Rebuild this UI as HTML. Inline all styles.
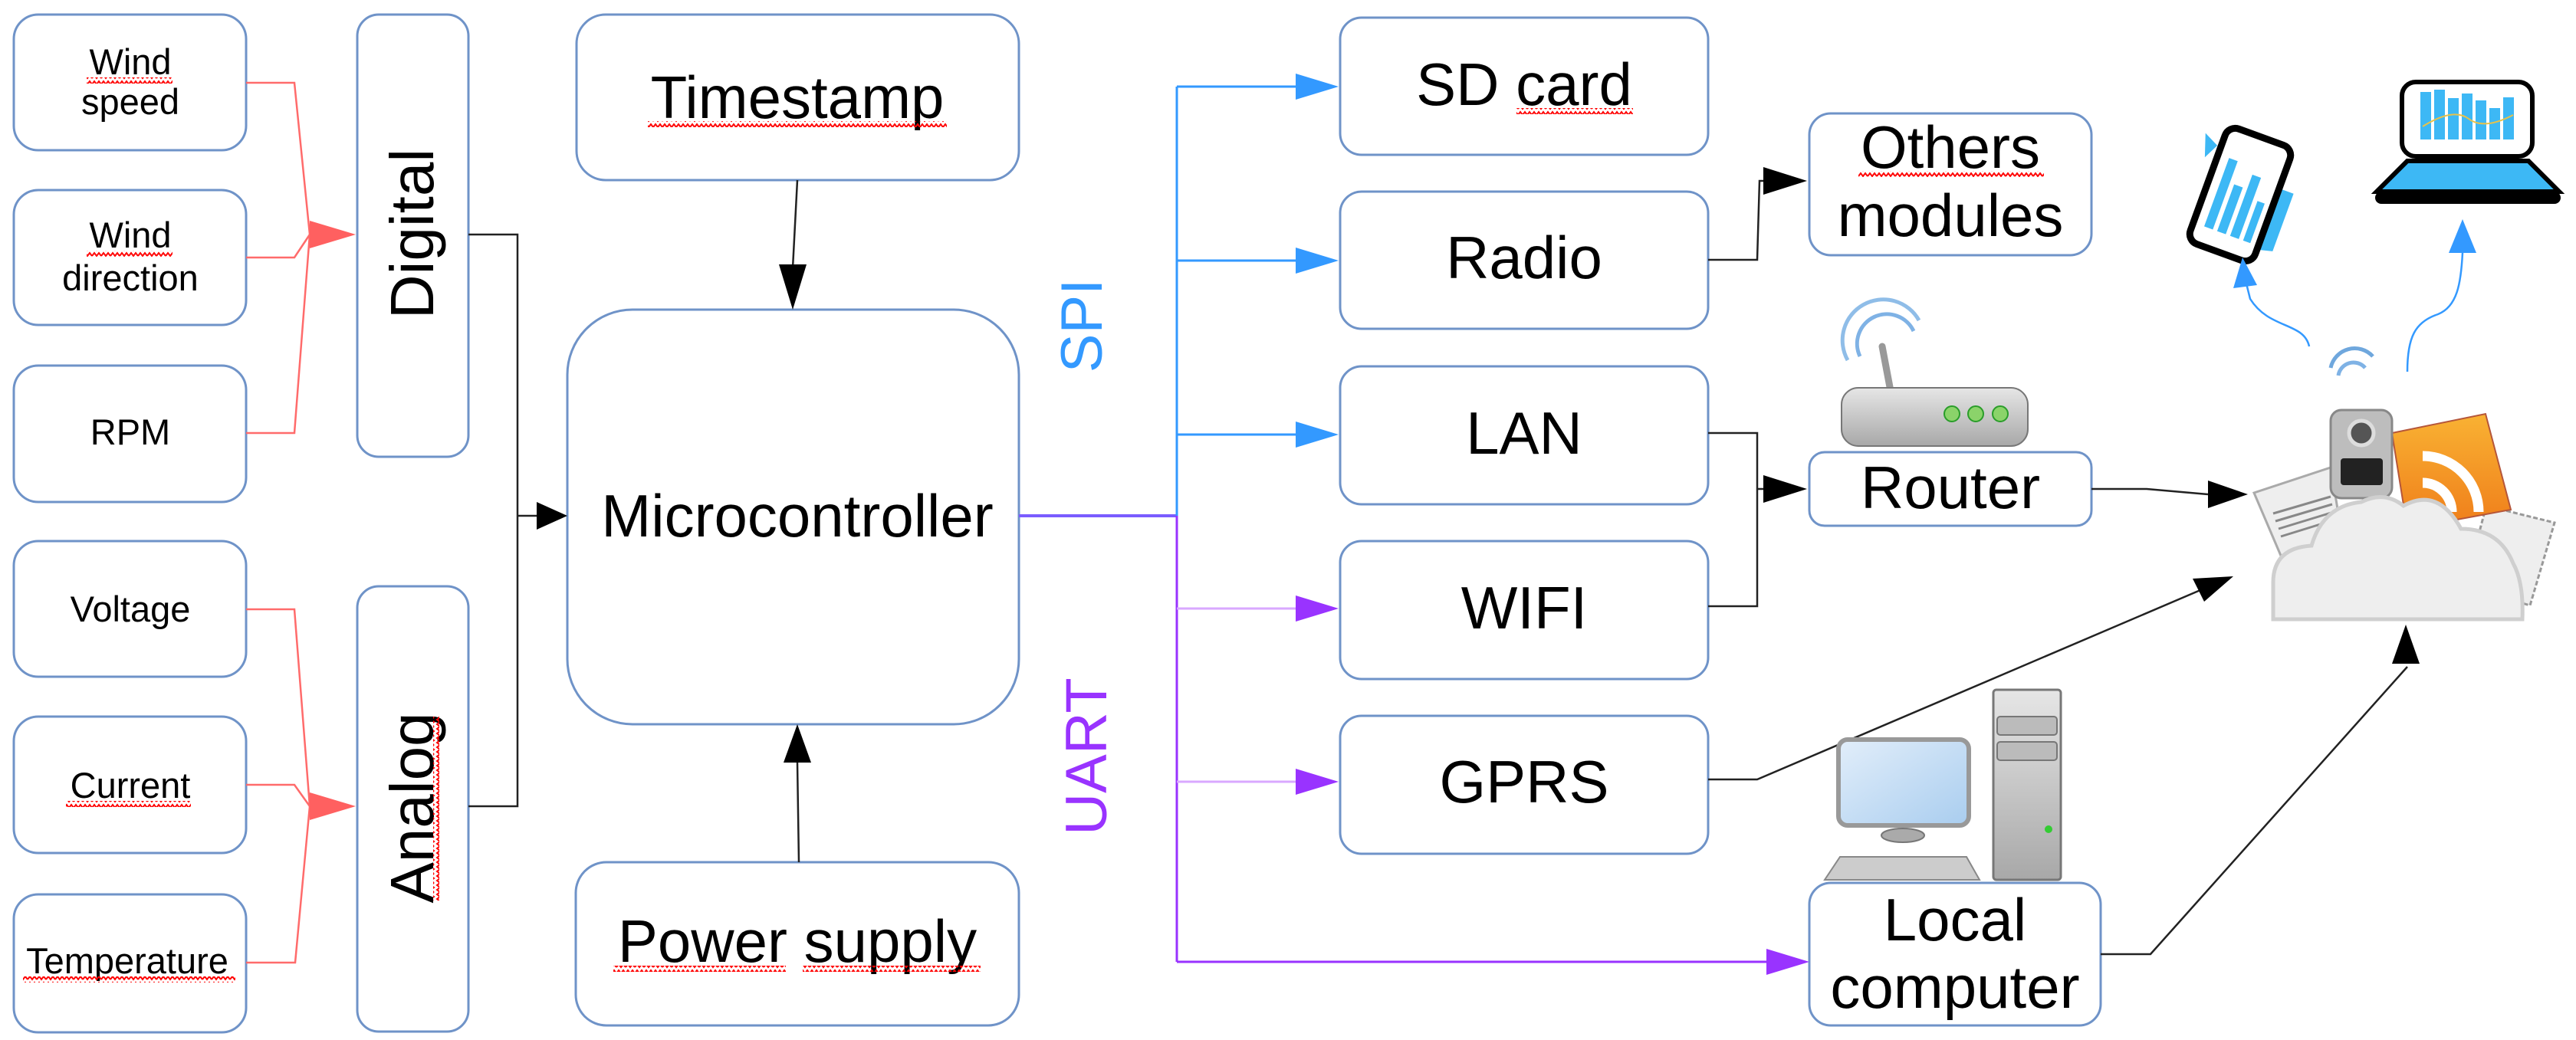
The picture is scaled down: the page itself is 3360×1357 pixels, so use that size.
<!DOCTYPE html>
<html><head><meta charset="utf-8"><style>
html,body{margin:0;padding:0;background:#fff;}
svg{display:block;}
text{font-family:"Liberation Sans",sans-serif;fill:#000;}
</style></head><body>
<svg width="3360" height="1357" viewBox="0 0 3360 1357" xmlns="http://www.w3.org/2000/svg">
<defs>
<pattern id="wv" width="12" height="8" patternUnits="userSpaceOnUse">
<path d="M0,6 L3,2 L6,6 L9,2 L12,6" fill="none" stroke="#f00" stroke-width="2"/>
</pattern>
<pattern id="wvv" width="8" height="12" patternUnits="userSpaceOnUse">
<path d="M6,0 L2,3 L6,6 L2,9 L6,12" fill="none" stroke="#f00" stroke-width="2"/>
</pattern>
<linearGradient id="gr" x1="0" y1="0" x2="0" y2="1"><stop offset="0" stop-color="#e6e6e6"/><stop offset="1" stop-color="#a8a8a8"/></linearGradient>
<linearGradient id="scr" x1="0" y1="0" x2="1" y2="1"><stop offset="0" stop-color="#e2eefa"/><stop offset="1" stop-color="#a9cdef"/></linearGradient>
<linearGradient id="org" x1="0" y1="0" x2="0" y2="1"><stop offset="0" stop-color="#f9b233"/><stop offset="1" stop-color="#ef7d1a"/></linearGradient>
</defs>
<g fill="#fff" stroke="#6f93c8" stroke-width="3">
<rect x="18" y="19" width="303" height="177" rx="32"/>
<rect x="18" y="248" width="303" height="176" rx="32"/>
<rect x="18" y="477" width="303" height="178" rx="32"/>
<rect x="18" y="706" width="303" height="177" rx="32"/>
<rect x="18" y="935" width="303" height="178" rx="32"/>
<rect x="18" y="1167" width="303" height="180" rx="32"/>
<rect x="466" y="19" width="145" height="577" rx="28"/>
<rect x="466" y="765" width="145" height="581" rx="28"/>
<rect x="752" y="19" width="577" height="216" rx="38"/>
<rect x="740" y="404" width="589" height="541" rx="85"/>
<rect x="751" y="1125" width="578" height="213" rx="40"/>
<rect x="1748" y="23" width="480" height="179" rx="28"/>
<rect x="1748" y="250" width="480" height="179" rx="28"/>
<rect x="1748" y="478" width="480" height="180" rx="28"/>
<rect x="1748" y="706" width="480" height="180" rx="28"/>
<rect x="1748" y="934" width="480" height="180" rx="28"/>
<rect x="2360" y="148" width="368" height="185" rx="28"/>
<rect x="2360" y="590" width="368" height="96" rx="20"/>
<rect x="2360" y="1152" width="380" height="186" rx="28"/>
</g>
<g fill="none" stroke="#ff6b6b" stroke-width="2.5">
<polyline points="321,108 384,108 404,306"/>
<polyline points="321,336 384,336 404,306"/>
<polyline points="321,565 384,565 404,306"/>
<polyline points="321,795 384,795 404,1052"/>
<polyline points="321,1024 384,1024 404,1052"/>
<polyline points="321,1256 385,1256 404,1052"/>
</g>
<polygon points="404,288 464,306 404,324" fill="#ff6060"/>
<polygon points="404,1034 464,1052 404,1070" fill="#ff6060"/>
<g fill="none" stroke="#222" stroke-width="2.5">
<polyline points="611,306 675,306 675,1052 611,1052"/>
<line x1="675" y1="673" x2="700" y2="673"/>
<line x1="1040" y1="235" x2="1034" y2="350"/>
<line x1="1042" y1="1125" x2="1040" y2="995"/>
<polyline points="2228,339 2292,339 2295,236 2310,236"/>
<polyline points="2228,565 2292,565 2292,791 2228,791"/>
<line x1="2292" y1="638" x2="2310" y2="638"/>
<polyline points="2728,638 2800,638 2880,645"/>
<polyline points="2228,1017 2292,1017 2870,770"/>
<polyline points="2740,1245 2805,1245 3140,870"/>
</g>
<g fill="#000">
<polygon points="700,655 740,673 700,691"/>
<polygon points="1016,345 1052,345 1034,404"/>
<polygon points="1022,995 1058,995 1040,945"/>
<polygon points="2300,218 2357,236 2300,254"/>
<polygon points="2300,620 2357,638 2300,656"/>
<polygon points="2880,627 2932,645 2880,663"/>
<polygon points="2860,755 2913,752 2875,785"/>
<polygon points="3120,866 3156,866 3138,815"/>
</g>
<line x1="1329" y1="673" x2="1535" y2="673" stroke="#7a5cff" stroke-width="4"/>
<g stroke="#3399ff" stroke-width="3" fill="none">
<line x1="1535" y1="113" x2="1535" y2="673"/>
<line x1="1535" y1="113" x2="1695" y2="113"/>
<line x1="1535" y1="340" x2="1695" y2="340"/>
<line x1="1535" y1="567" x2="1695" y2="567"/>
</g>
<g stroke="#9933ff" stroke-width="3" fill="none">
<line x1="1535" y1="673" x2="1535" y2="1255"/>
<line x1="1535" y1="1255" x2="2310" y2="1255"/>
</g>
<g stroke="#d9a8ff" stroke-width="3">
<line x1="1535" y1="794" x2="1695" y2="794"/>
<line x1="1535" y1="1020" x2="1695" y2="1020"/>
</g>
<g fill="#3399ff">
<polygon points="1690,96 1746,113 1690,130"/>
<polygon points="1690,323 1746,340 1690,357"/>
<polygon points="1690,550 1746,567 1690,584"/>
</g>
<g fill="#9933ff">
<polygon points="1690,777 1746,794 1690,811"/>
<polygon points="1690,1003 1746,1020 1690,1037"/>
<polygon points="2304,1238 2360,1255 2304,1272"/>
</g>
<g font-size="47" text-anchor="middle">
<text x="170" y="97">Wind</text><text x="170" y="149">speed</text>
<text x="170" y="323">Wind</text><text x="170" y="379">direction</text>
<text x="170" y="580">RPM</text>
<text x="170" y="811">Voltage</text>
<text x="170" y="1041">Current</text>
<text x="166" y="1270">Temperature</text>
</g>
<g font-size="78" text-anchor="middle">
<text x="1040" y="154">Timestamp</text>
<text x="1040" y="700">Microcontroller</text>
<text x="1040" y="1255">Power supply</text>
<text x="1988" y="137">SD card</text>
<text x="1988" y="363">Radio</text>
<text x="1988" y="592">LAN</text>
<text x="1988" y="820">WIFI</text>
<text x="1988" y="1047">GPRS</text>
<text x="2544" y="219">Others</text><text x="2544" y="308">modules</text>
<text x="2544" y="663">Router</text>
<text x="2550" y="1227">Local</text><text x="2550" y="1315">computer</text>
</g>
<text font-size="80" text-anchor="middle" transform="translate(565,305) rotate(-90)">Digital</text>
<text font-size="80" text-anchor="middle" transform="translate(565,1054) rotate(-90)">Analog</text>
<text font-size="76" text-anchor="middle" style="fill:#3399ff" transform="translate(1437,425) rotate(-90)">SPI</text>
<text font-size="76" text-anchor="middle" style="fill:#9933ff" transform="translate(1443,987) rotate(-90)">UART</text>
<g fill="url(#wv)">
<rect x="113" y="101" width="112" height="8"/>
<rect x="113" y="327" width="112" height="8"/>
<rect x="86" y="1045" width="163" height="8"/>
<rect x="30" y="1274" width="277" height="8"/>
<rect x="845" y="158" width="390" height="8"/>
<rect x="800" y="1260" width="225" height="8"/>
<rect x="1047" y="1260" width="232" height="8"/>
<rect x="1978" y="141" width="152" height="8"/>
<rect x="2424" y="223" width="242" height="8"/>
</g>
<rect x="565" y="935" width="8" height="240" fill="url(#wvv)"/>
<g>
<path d="M2426,465 A34,34 0 0 1 2496,432" fill="none" stroke="#7fb2e5" stroke-width="5"/>
<path d="M2410,470 A52,52 0 0 1 2503,418" fill="none" stroke="#8fbde8" stroke-width="5"/>
<line x1="2455" y1="452" x2="2465" y2="505" stroke="#999" stroke-width="9" stroke-linecap="round"/>
<rect x="2402" y="506" width="243" height="76" rx="22" fill="url(#gr)" stroke="#777" stroke-width="2"/>
<circle cx="2546" cy="540" r="10" fill="#8bd36a" stroke="#2a9d2a" stroke-width="2"/>
<circle cx="2577" cy="540" r="10" fill="#8bd36a" stroke="#2a9d2a" stroke-width="2"/>
<circle cx="2609" cy="540" r="10" fill="#8bd36a" stroke="#2a9d2a" stroke-width="2"/>
</g>
<g>
<rect x="2398" y="965" width="170" height="112" rx="12" fill="url(#scr)" stroke="#999" stroke-width="6"/>
<ellipse cx="2482" cy="1090" rx="28" ry="9" fill="#aaa" stroke="#777" stroke-width="2"/>
<polygon points="2400,1118 2565,1118 2582,1148 2380,1148" fill="#ccc" stroke="#888" stroke-width="2"/>
<rect x="2600" y="900" width="88" height="248" rx="4" fill="url(#gr)" stroke="#777" stroke-width="3"/>
<rect x="2605" y="935" width="78" height="24" rx="4" fill="#bbb" stroke="#777" stroke-width="2"/>
<rect x="2605" y="968" width="78" height="24" rx="4" fill="#bbb" stroke="#777" stroke-width="2"/>
<circle cx="2672" cy="1082" r="5" fill="#3c3"/>
</g>
<g transform="translate(2922,254) rotate(20)">
<path d="M-70,-60 l20,10 l-10,20 z M45,-25 l20,0 l0,80 l-20,5 z" fill="#3db8f5"/>
<rect x="-45" y="-80" width="90" height="160" rx="14" fill="#fff" stroke="#000" stroke-width="9"/>
<g fill="#3db8f5"><rect x="-30" y="-40" width="12" height="95"/><rect x="-12" y="-10" width="12" height="65"/><rect x="6" y="-30" width="12" height="85"/><rect x="24" y="0" width="10" height="55"/></g>
</g>
<g>
<rect x="3133" y="107" width="170" height="97" rx="18" fill="#fff" stroke="#000" stroke-width="6"/>
<g fill="#3db8f5"><rect x="3157" y="120" width="14" height="62"/><rect x="3175" y="117" width="14" height="65"/><rect x="3193" y="128" width="14" height="54"/><rect x="3211" y="122" width="14" height="60"/><rect x="3229" y="131" width="14" height="51"/><rect x="3247" y="141" width="14" height="41"/><rect x="3265" y="127" width="14" height="55"/></g>
<path d="M3160,165 Q3200,140 3220,155 T3278,150" fill="none" stroke="#e8c24a" stroke-width="2"/>
<path d="M3140,210 L3298,210 L3338,250 L3100,250 Z" fill="#3db8f5" stroke="#000" stroke-width="6"/>
<rect x="3098" y="250" width="242" height="16" rx="8" fill="#000"/>
</g>
<path d="M3012,452 C3005,420 2960,430 2935,390 L2930,370" fill="none" stroke="#3399ff" stroke-width="2.5"/>
<polygon points="2913,376 2925,336 2944,372" fill="#3399ff"/>
<path d="M3140,485 C3140,440 3150,420 3180,410 C3205,400 3210,370 3212,330" fill="none" stroke="#3399ff" stroke-width="2.5"/>
<polygon points="3194,330 3212,286 3230,330" fill="#3399ff"/>
<g>
<path d="M3040,480 A32,32 0 0 1 3095,465" fill="none" stroke="#6fa7dd" stroke-width="5"/>
<path d="M3050,490 A20,20 0 0 1 3085,480" fill="none" stroke="#7fb2e5" stroke-width="5"/>
<polygon points="3243,660 3332,682 3300,790 3215,765" fill="#eee" stroke="#999" stroke-width="3" stroke-dasharray="6,3"/>
<polygon points="3120,565 3242,540 3275,665 3140,690" fill="url(#org)" stroke="#b5563a" stroke-width="2"/>
<circle cx="3160" cy="668" r="10" fill="#fff"/>
<path d="M3160,630 A38,38 0 0 1 3198,668 M3160,595 A73,73 0 0 1 3233,668" fill="none" stroke="#fff" stroke-width="13"/>
<polygon points="2940,643 3040,610 3055,700 2975,725" fill="#eee" stroke="#aaa" stroke-width="3"/>
<g stroke="#888" stroke-width="3"><line x1="2965" y1="670" x2="3040" y2="648"/><line x1="2968" y1="680" x2="3042" y2="658"/><line x1="2972" y1="690" x2="3044" y2="668"/><line x1="2975" y1="700" x2="3046" y2="678"/></g>
<rect x="3040" y="535" width="80" height="115" rx="14" fill="#bdbdbd" stroke="#888" stroke-width="3"/>
<circle cx="3080" cy="565" r="16" fill="#555" stroke="#ddd" stroke-width="5"/>
<rect x="3053" y="598" width="55" height="35" rx="4" fill="#222"/>
<path d="M2965,808 L2965,760 Q2965,715 3015,712 Q3030,660 3080,655 Q3110,640 3135,660 Q3180,635 3210,690 Q3260,690 3278,735 Q3292,760 3290,808 Z" fill="#eeeeee" stroke="#cfcfcf" stroke-width="5"/>
</g>
</svg>
</body></html>
